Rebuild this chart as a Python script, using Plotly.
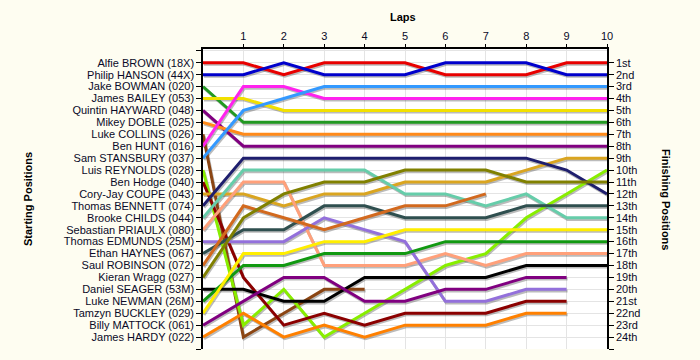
import plotly.graph_objects as go

laps = list(range(0, 11))
lap_labels = [str(i) for i in range(1, 11)]

drivers = [
    "Alfie BROWN (18X)", "Philip HANSON (44X)", "Jake BOWMAN (020)", "James BAILEY (053)",
    "Quintin HAYWARD (048)", "Mikey DOBLE (025)", "Luke COLLINS (026)", "Ben HUNT (016)",
    "Sam STANSBURY (037)", "Luis REYNOLDS (028)", "Ben Hodge (040)", "Cory-Jay COUPE (043)",
    "Thomas BENNETT (074)", "Brooke CHILDS (044)", "Sebastian PRIAULX (080)", "Thomas EDMUNDS (25M)",
    "Ethan HAYNES (067)", "Saul ROBINSON (072)", "Kieran Wragg (027)", "Daniel SEAGER (53M)",
    "Luke NEWMAN (26M)", "Tamzyn BUCKLEY (029)", "Billy MATTOCK (061)", "James HARDY (022)",
]

finish_labels = [
    "1st", "2nd", "3rd", "4th", "5th", "6th", "7th", "8th", "9th", "10th", "11th", "12th",
    "13th", "14th", "15th", "16th", "17th", "18th", "19th", "20th", "21st", "22nd", "23rd", "24th",
]

N = None
positions = [
    [1, 1, 2, 1, 1, 1, 2, 2, 2, 1, 1],
    [2, 2, 1, 2, 2, 2, 1, 1, 1, 2, 2],
    [3, 6, 6, 6, 6, 6, 6, 6, 6, 6, 6],
    [4, 4, 5, 5, 5, 5, 5, 5, 5, 5, 5],
    [5, 8, 8, 8, 8, 8, 8, 8, 8, 8, 8],
    [6, 7, 7, 7, 7, 7, 7, 7, 7, 7, 7],
    [7, 24, 22, 20, 20, N, N, N, N, N, N],
    [8, 3, 3, 4, 4, 4, 4, 4, 4, 4, 4],
    [9, 5, 4, 3, 3, 3, 3, 3, 3, 3, 3],
    [10, 23, 20, 24, 22, 20, 18, 17, 14, 12, 10],
    [11, 19, 23, 22, 23, 22, 22, 22, 21, 21, N],
    [12, 12, 13, 12, 12, 11, 11, 11, 10, 9, 9],
    [13, 9, 9, 9, 9, 9, 9, 9, 9, 10, 12],
    [14, 10, 10, 10, 10, 12, 12, 13, 12, 14, 14],
    [15, 11, 11, 18, 18, 18, 17, 18, 17, 17, 17],
    [16, 16, 16, 14, 15, 16, 21, 21, 20, 20, N],
    [17, 15, 15, 13, 13, 14, 14, 14, 13, 13, 13],
    [18, 13, 14, 15, 14, 13, 13, 12, N, N, N],
    [19, 14, 12, 11, 11, 10, 10, 10, 11, 11, 11],
    [20, 20, 21, 21, 19, 19, 19, 19, 18, 18, 18],
    [21, 18, 18, 17, 17, 17, 16, 16, 16, 16, 16],
    [22, 17, 17, 16, 16, 15, 15, 15, 15, 15, 15],
    [23, 21, 19, 19, 21, 21, 20, 20, 19, 19, N],
    [24, 22, 24, 23, 24, 23, 23, 23, 22, 22, N],
]

colors = [
    "#E80000", "#0000CC", "#229922", "#F2E000", "#800080", "#FF8A1A",
    "#8B4513", "#FF22EE", "#3399FF", "#88EE00", "#8B0000", "#DAA520",
    "#1E1E6E", "#66CDAA", "#FFA07A", "#9370DB", "#2F4F4F", "#D2691E",
    "#808000", "#000000", "#119911", "#FFEE00", "#800080", "#FF8000",
]

BG = "#FEFDF1"
W, H = 700, 360
ML, MR, MT, MB = 203, 93, 49, 11
pw = W - ML - MR
ph = H - MT - MB
ytop, ybot = -0.15, 25.0
px_per_lap = pw / 10.0
px_per_pos = ph / (ybot - ytop)
dx = 1.0 / px_per_lap
dy = 1.6 / px_per_pos

fig = go.Figure()

# shadows (main hidden axes, shifted ranges)
for pos in positions:
    fig.add_trace(go.Scatter(
        x=laps, y=pos, mode="lines", xaxis="x", yaxis="y",
        line=dict(color="rgba(60,60,60,0.35)", width=3),
        hoverinfo="skip", showlegend=False, connectgaps=False,
    ))

for name, pos, col in zip(drivers, positions, colors):
    fig.add_trace(go.Scatter(
        x=laps, y=pos, mode="lines", xaxis="x2", yaxis="y2", name=name,
        line=dict(color=col, width=3), showlegend=False, connectgaps=False,
    ))

fig.add_trace(go.Scatter(x=[None], y=[None], mode="lines", xaxis="x2", yaxis="y3",
                         showlegend=False, hoverinfo="skip"))

font_lbl = dict(family="Liberation Sans, Arial, sans-serif", size=11, color="#0a0a28")
font_ttl = dict(family="Liberation Sans, Arial, sans-serif", size=11, color="#000000")

fig.update_layout(
    width=W, height=H,
    margin=dict(l=ML, r=MR, t=MT, b=MB, pad=0),
    paper_bgcolor=BG,
    plot_bgcolor="#FFFFFF",
    font=font_lbl,
    xaxis=dict(range=[0 - dx, 10 - dx], visible=False, fixedrange=True),
    yaxis=dict(range=[ybot - dy, ytop - dy], visible=False, fixedrange=True),
    xaxis2=dict(
        overlaying="x", side="top", anchor="y2", range=[0, 10],
        tickvals=list(range(1, 11)), ticktext=lap_labels,
        ticks="outside", ticklen=3, tickcolor="#000000",
        showline=True, linecolor="#000000", linewidth=1.5,
        showgrid=True, gridcolor="#E4E4E4", gridwidth=1, zeroline=False,
        tickfont=font_lbl,
    ),
    yaxis2=dict(
        overlaying="y", side="left", anchor="x2", range=[ybot, ytop],
        tickvals=list(range(0, 26)), ticktext=[""] + drivers + [""],
        ticks="outside", ticklen=5, tickcolor="#000000",
        showline=True, linecolor="#000000", linewidth=1.5,
        showgrid=True, gridcolor="#E4E4E4", gridwidth=1, zeroline=False,
        tickfont=font_lbl,
    ),
    yaxis3=dict(
        overlaying="y", side="right", anchor="x2", range=[ybot, ytop],
        tickvals=list(range(1, 26)), ticktext=finish_labels + [""],
        ticks="outside", ticklen=5, tickcolor="#000000",
        showline=True, linecolor="#000000", linewidth=1.5,
        showgrid=False, zeroline=False,
        tickfont=font_lbl,
    ),
    annotations=[
        dict(text="<b>Laps</b>", xref="paper", yref="paper",
             x=(403 - ML) / pw, y=1 + (MT - 17) / ph, xanchor="center", yanchor="middle",
             showarrow=False, font=font_ttl),
        dict(text="<b>Starting Positions</b>", xref="paper", yref="paper",
             x=(28 - ML) / pw, y=0.5, xanchor="center", yanchor="middle", textangle=-90,
             showarrow=False, font=font_ttl),
        dict(text="<b>Finishing Positions</b>", xref="paper", yref="paper",
             x=(666 - ML) / pw, y=0.5, xanchor="center", yanchor="middle", textangle=90,
             showarrow=False, font=font_ttl),
    ],
)

fig.write_html(
    "out.html",
    config={"displayModeBar": False},
    post_script="document.body.style.margin='0';document.body.style.background='%s';" % BG,
)
